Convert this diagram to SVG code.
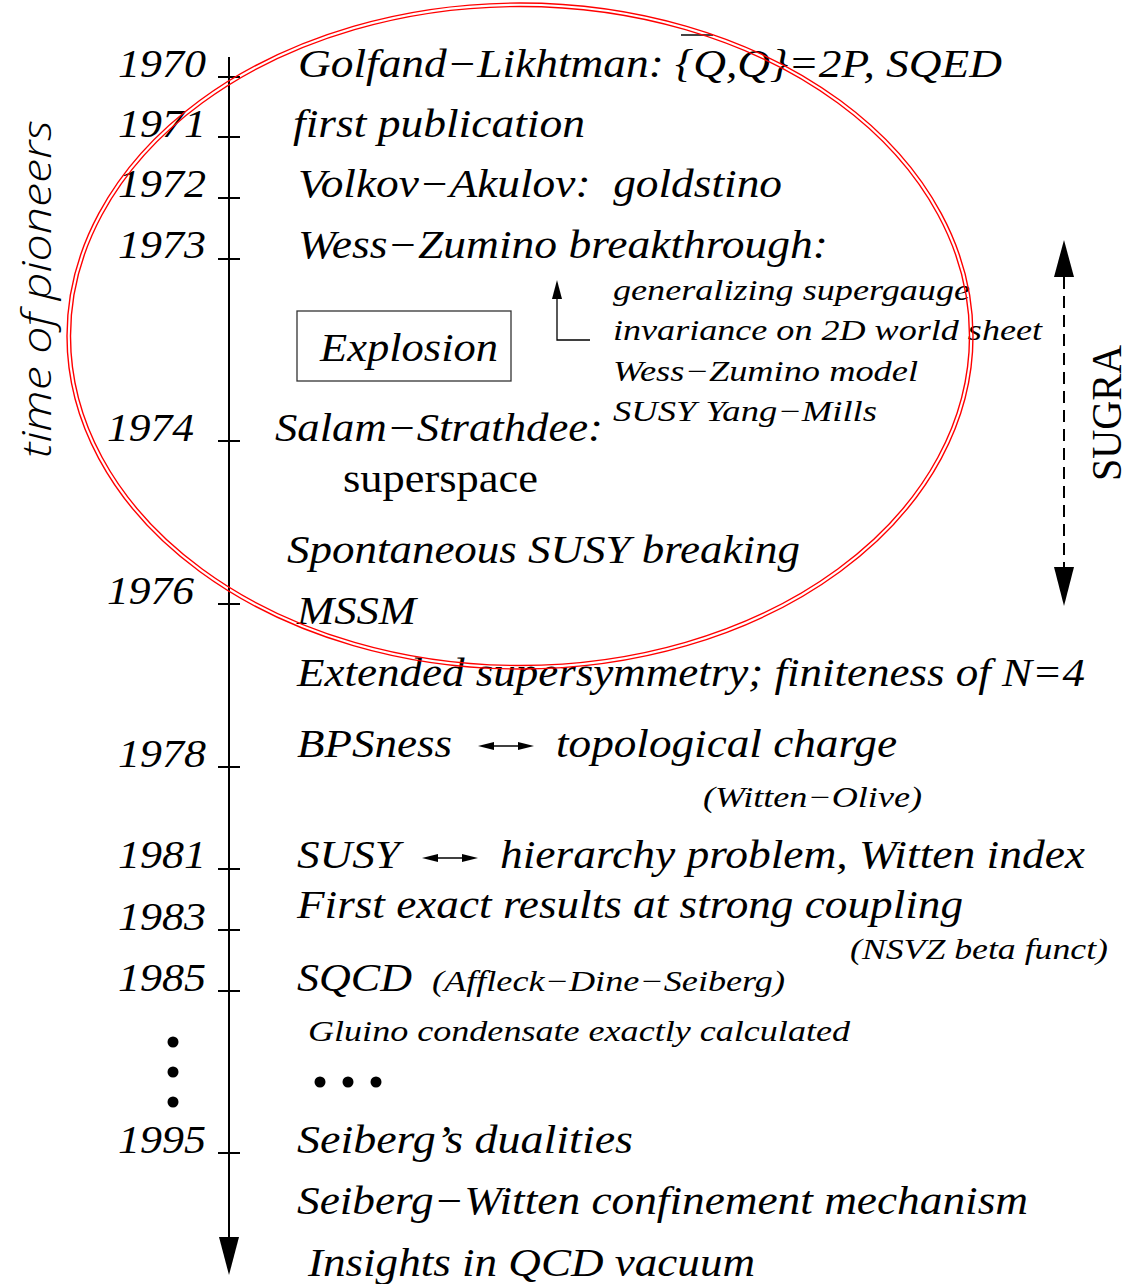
<svg xmlns="http://www.w3.org/2000/svg" width="1132" height="1284" viewBox="0 0 1132 1284">
<style>
  text { font-family: "Liberation Serif", "Times New Roman", serif; fill: #000; white-space: pre; }
  .it { font-style: italic; }
  .big { font-size: 40px; }
  .sm { font-size: 29px; }
  .yr { font-size: 40px; font-style: italic; }
  .ln { stroke: #000; stroke-width: 2; fill: none; }
  .thin { stroke: #000; stroke-width: 1.3; fill: none; }
  .head { fill: #000; }
  .ell { stroke: #ff0000; stroke-width: 1.4; fill: none; }
</style>
<rect width="1132" height="1284" fill="#fff"/>

<g id="connectors">
  <line class="ln" x1="229" y1="57" x2="229" y2="1245"/>
  <polygon class="head" points="219,1237 239,1237 229,1275"/>
  <line class="ln" x1="218" y1="77" x2="240" y2="77"/>
  <line class="ln" x1="218" y1="137" x2="240" y2="137"/>
  <line class="ln" x1="218" y1="198" x2="240" y2="198"/>
  <line class="ln" x1="218" y1="259" x2="240" y2="259"/>
  <line class="ln" x1="218" y1="441" x2="240" y2="441"/>
  <line class="ln" x1="218" y1="604" x2="240" y2="604"/>
  <line class="ln" x1="218" y1="767" x2="240" y2="767"/>
  <line class="ln" x1="218" y1="869" x2="240" y2="869"/>
  <line class="ln" x1="218" y1="930" x2="240" y2="930"/>
  <line class="ln" x1="218" y1="991" x2="240" y2="991"/>
  <line class="ln" x1="218" y1="1153" x2="240" y2="1153"/>
  <!-- SUGRA dashed double arrow -->
  <line class="ln" x1="1064" y1="277" x2="1064" y2="568" stroke-dasharray="12 7"/>
  <polygon class="head" points="1054,277 1074,277 1064,240"/>
  <polygon class="head" points="1054,567 1074,567 1064,606"/>
  <!-- small arrow near Explosion -->
  <polyline class="thin" points="590,340 557,340 557,296"/>
  <polygon class="head" points="552,299 562,299 557,280"/>
  <!-- BPSness double arrow -->
  <line class="thin" x1="488" y1="746" x2="524" y2="746"/>
  <polygon class="head" points="478,746 494,742 494,750"/>
  <polygon class="head" points="534,746 518,742 518,750"/>
  <!-- SUSY double arrow -->
  <line class="thin" x1="432" y1="858" x2="468" y2="858"/>
  <polygon class="head" points="422,858 438,854 438,862"/>
  <polygon class="head" points="478,858 462,854 462,862"/>
</g>

<g id="years">
  <text class="yr" x="118" y="77" textLength="88" lengthAdjust="spacingAndGlyphs">1970</text>
  <text class="yr" x="118" y="137" textLength="88" lengthAdjust="spacingAndGlyphs">1971</text>
  <text class="yr" x="118" y="197" textLength="88" lengthAdjust="spacingAndGlyphs">1972</text>
  <text class="yr" x="118" y="258" textLength="88" lengthAdjust="spacingAndGlyphs">1973</text>
  <text class="yr" x="107" y="441" textLength="87" lengthAdjust="spacingAndGlyphs">1974</text>
  <text class="yr" x="107" y="604" textLength="87" lengthAdjust="spacingAndGlyphs">1976</text>
  <text class="yr" x="118" y="767" textLength="88" lengthAdjust="spacingAndGlyphs">1978</text>
  <text class="yr" x="118" y="868" textLength="88" lengthAdjust="spacingAndGlyphs">1981</text>
  <text class="yr" x="118" y="930" textLength="88" lengthAdjust="spacingAndGlyphs">1983</text>
  <text class="yr" x="118" y="991" textLength="88" lengthAdjust="spacingAndGlyphs">1985</text>
  <text class="yr" x="118" y="1153" textLength="88" lengthAdjust="spacingAndGlyphs">1995</text>
</g>

<g id="n-golfand">
  <text class="it big" x="298" y="77" textLength="704" lengthAdjust="spacingAndGlyphs">Golfand−Likhtman: {Q,Q}=2P, SQED</text>
  <line x1="681" y1="35" x2="713" y2="35" stroke="#444" stroke-width="2"/>
</g>
<g id="n-first"><text class="it big" x="293" y="137" textLength="292" lengthAdjust="spacingAndGlyphs">first publication</text></g>
<g id="n-volkov"><text class="it big" x="298" y="197" textLength="484" lengthAdjust="spacingAndGlyphs">Volkov−Akulov:  goldstino</text></g>
<g id="n-wz"><text class="it big" x="298" y="258" textLength="530" lengthAdjust="spacingAndGlyphs">Wess−Zumino breakthrough:</text></g>
<g id="n-wzdetails">
  <text class="it sm" x="613" y="300" textLength="357" lengthAdjust="spacingAndGlyphs">generalizing supergauge</text>
  <text class="it sm" x="613" y="340" textLength="429" lengthAdjust="spacingAndGlyphs">invariance on 2D world sheet</text>
  <text class="it sm" x="613" y="381" textLength="305" lengthAdjust="spacingAndGlyphs">Wess−Zumino model</text>
  <text class="it sm" x="613" y="421" textLength="264" lengthAdjust="spacingAndGlyphs">SUSY Yang−Mills</text>
</g>
<g id="n-explosion">
  <rect x="297" y="311" width="214" height="70" fill="none" stroke="#333" stroke-width="1.3"/>
  <text class="it big" x="320" y="361" textLength="178" lengthAdjust="spacingAndGlyphs">Explosion</text>
</g>
<g id="n-salam">
  <text class="it big" x="275" y="441" textLength="328" lengthAdjust="spacingAndGlyphs">Salam−Strathdee:</text>
  <text class="big" x="343" y="492" textLength="195" lengthAdjust="spacingAndGlyphs">superspace</text>
</g>
<g id="n-spont"><text class="it big" x="287" y="563" textLength="513" lengthAdjust="spacingAndGlyphs">Spontaneous SUSY breaking</text></g>
<g id="n-mssm"><text class="it big" x="297" y="624" textLength="119" lengthAdjust="spacingAndGlyphs">MSSM</text></g>
<g id="n-extended"><text class="it big" x="297" y="686" textLength="788" lengthAdjust="spacingAndGlyphs">Extended supersymmetry; finiteness of N=4</text></g>
<g id="n-bps">
  <text class="it big" x="297" y="757" textLength="155" lengthAdjust="spacingAndGlyphs">BPSness</text>
  <text class="it big" x="556" y="757" textLength="341" lengthAdjust="spacingAndGlyphs">topological charge</text>
  <text class="it sm" x="703" y="807" textLength="219" lengthAdjust="spacingAndGlyphs">(Witten−Olive)</text>
</g>
<g id="n-susy">
  <text class="it big" x="297" y="868" textLength="103" lengthAdjust="spacingAndGlyphs">SUSY</text>
  <text class="it big" x="500" y="868" textLength="585" lengthAdjust="spacingAndGlyphs">hierarchy problem, Witten index</text>
</g>
<g id="n-exact">
  <text class="it big" x="297" y="918" textLength="666" lengthAdjust="spacingAndGlyphs">First exact results at strong coupling</text>
  <text class="it sm" x="850" y="959" textLength="258" lengthAdjust="spacingAndGlyphs">(NSVZ beta funct)</text>
</g>
<g id="n-sqcd">
  <text class="it big" x="297" y="991" textLength="115" lengthAdjust="spacingAndGlyphs">SQCD</text>
  <text class="it sm" x="432" y="991" textLength="353" lengthAdjust="spacingAndGlyphs">(Affleck−Dine−Seiberg)</text>
</g>
<g id="n-gluino"><text class="it sm" x="308" y="1041" textLength="542" lengthAdjust="spacingAndGlyphs">Gluino condensate exactly calculated</text></g>
<g id="n-dots">
  <circle cx="173" cy="1042" r="5.5"/>
  <circle cx="173" cy="1072" r="5.5"/>
  <circle cx="173" cy="1102" r="5.5"/>
  <circle cx="320" cy="1082" r="5.5"/>
  <circle cx="348" cy="1082" r="5.5"/>
  <circle cx="376" cy="1082" r="5.5"/>
</g>
<g id="n-seiberg"><text class="it big" x="297" y="1153" textLength="336" lengthAdjust="spacingAndGlyphs">Seiberg’s dualities</text></g>
<g id="n-sw"><text class="it big" x="297" y="1214" textLength="731" lengthAdjust="spacingAndGlyphs">Seiberg−Witten confinement mechanism</text></g>
<g id="n-insights"><text class="it big" x="308" y="1276" textLength="447" lengthAdjust="spacingAndGlyphs">Insights in QCD vacuum</text></g>

<g id="n-time">
  <text transform="translate(51,458) rotate(-90)" style="font-family: 'Open Sans', 'DejaVu Sans', sans-serif; font-style: italic; font-weight: 300; font-size: 40px;" textLength="338" lengthAdjust="spacingAndGlyphs">time of pioneers</text>
</g>
<g id="n-sugra">
  <text transform="translate(1121,481) rotate(-90)" style="font-size: 42px;" textLength="136" lengthAdjust="spacingAndGlyphs">SUGRA</text>
</g>

<g id="n-ellipse">
  <ellipse class="ell" cx="520" cy="336" rx="453" ry="333"/>
  <ellipse class="ell" cx="520" cy="336" rx="449.5" ry="329.5"/>
</g>
</svg>
